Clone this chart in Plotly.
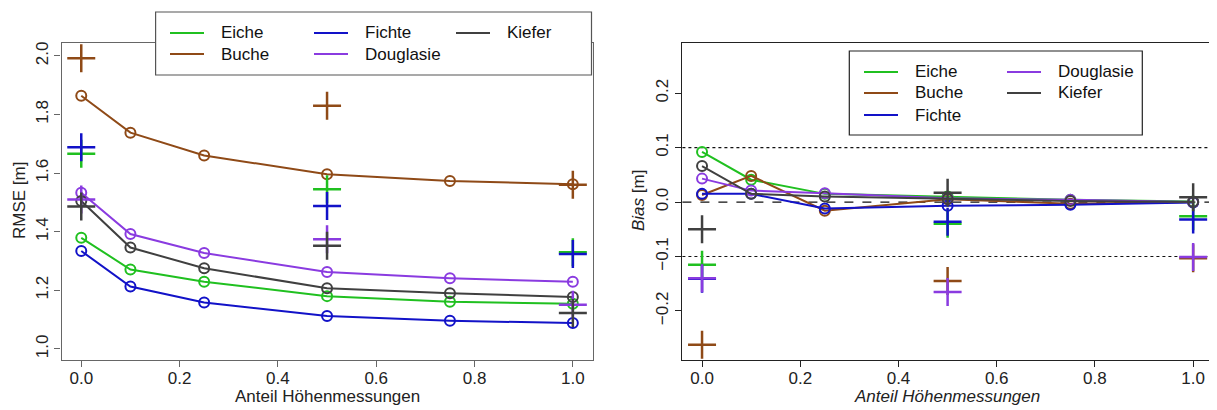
import plotly.graph_objects as go

# ---------------- data ----------------
anteil = [0.0, 0.1, 0.25, 0.5, 0.75, 1.0]
anteil_plus = [0.0, 0.5, 1.0]
species = ["Eiche", "Buche", "Fichte", "Douglasie", "Kiefer"]

rmse_eiche = [1.379, 1.271, 1.229, 1.180, 1.161, 1.154]
rmse_buche = [1.864, 1.738, 1.660, 1.596, 1.573, 1.562]
rmse_fichte = [1.334, 1.213, 1.158, 1.112, 1.096, 1.088]
rmse_douglasie = [1.533, 1.392, 1.327, 1.262, 1.241, 1.229]
rmse_kiefer = [1.505, 1.346, 1.275, 1.207, 1.190, 1.177]

rmse_plus_eiche = [1.666, 1.545, 1.330]
rmse_plus_buche = [1.992, 1.830, 1.560]
rmse_plus_fichte = [1.688, 1.488, 1.324]
rmse_plus_douglasie = [1.510, 1.374, 1.151]
rmse_plus_kiefer = [1.486, 1.352, 1.122]

bias_eiche = [0.092, 0.041, 0.015, 0.010, 0.004, 0.001]
bias_buche = [0.013, 0.048, -0.016, 0.005, -0.003, 0.000]
bias_fichte = [0.015, 0.015, -0.012, -0.007, -0.005, -0.001]
bias_douglasie = [0.043, 0.021, 0.016, 0.007, 0.004, 0.000]
bias_kiefer = [0.066, 0.015, 0.010, 0.006, 0.002, 0.000]

bias_plus_eiche = [-0.115, -0.040, -0.026]
bias_plus_buche = [-0.262, -0.145, -0.103]
bias_plus_fichte = [-0.141, -0.036, -0.032]
bias_plus_douglasie = [-0.140, -0.165, -0.101]
bias_plus_kiefer = [-0.050, 0.017, 0.009]

rmse_ticks = [1.0, 1.2, 1.4, 1.6, 1.8, 2.0]
bias_ticks = [-0.2, -0.1, 0.0, 0.1, 0.2]
x_ticks = [0.0, 0.2, 0.4, 0.6, 0.8, 1.0]

x_title = "Anteil Höhenmessungen"
y_title_left = "RMSE [m]"
y_title_right = "<i>Bias</i> [m]"

rmse_lines = [rmse_eiche, rmse_buche, rmse_fichte, rmse_douglasie, rmse_kiefer]
rmse_plus = [rmse_plus_eiche, rmse_plus_buche, rmse_plus_fichte, rmse_plus_douglasie, rmse_plus_kiefer]
bias_lines = [bias_eiche, bias_buche, bias_fichte, bias_douglasie, bias_kiefer]
bias_plus = [bias_plus_eiche, bias_plus_buche, bias_plus_fichte, bias_plus_douglasie, bias_plus_kiefer]

# ---------------- style ----------------
colors = ["#20c020", "#8f4a17", "#1212c8", "#8a3be0", "#404040"]
FONT = "Liberation Sans, Arial, sans-serif"
FS = 17
OFF = 8                      # page body margin of the html page
W, H = 1217 - OFF, 410 - OFF


def px(x):
    return (x - OFF) / W


def py(y):
    return 1 - (y - OFF) / H


fig = go.Figure()

for i, sp in enumerate(species):
    c = colors[i]
    fig.add_trace(go.Scatter(x=anteil, y=rmse_lines[i], mode="lines+markers", name=sp,
                             line=dict(color=c, width=2),
                             marker=dict(symbol="circle-open", size=10, line=dict(width=2, color=c)),
                             xaxis="x", yaxis="y", showlegend=False))
    fig.add_trace(go.Scatter(x=anteil, y=bias_lines[i], mode="lines+markers", name=sp,
                             line=dict(color=c, width=2),
                             marker=dict(symbol="circle-open", size=10, line=dict(width=2, color=c)),
                             xaxis="x2", yaxis="y2", showlegend=False))
for i, sp in enumerate(species):
    c = colors[i]
    fig.add_trace(go.Scatter(x=anteil_plus, y=rmse_plus[i], mode="markers", name=sp,
                             marker=dict(symbol="cross-thin", size=20, line=dict(width=2.5, color=c)),
                             xaxis="x", yaxis="y", showlegend=False))
    fig.add_trace(go.Scatter(x=anteil_plus, y=bias_plus[i], mode="markers", name=sp,
                             marker=dict(symbol="cross-thin", size=20, line=dict(width=2.5, color=c)),
                             xaxis="x2", yaxis="y2", showlegend=False))

axis_common = dict(showgrid=False, zeroline=False, ticks="outside", ticklen=6, tickwidth=1,
                   showline=True, mirror=True, linewidth=1.3,
                   tickfont=dict(family=FONT, size=FS, color="#222"), tickformat=".1f")

ydom = [py(360), py(43)]
fig.update_layout(
    width=W, height=H,
    margin=dict(l=0, r=0, t=0, b=0),
    paper_bgcolor="white", plot_bgcolor="white",
    font=dict(family=FONT, size=FS, color="#222"),
    xaxis=dict(domain=[px(61.6), px(592.5)], range=[-0.04, 1.04], tickvals=x_ticks,
               linecolor="#666", tickcolor="#666", anchor="y", ticklabelstandoff=-4,
               **axis_common),
    yaxis=dict(domain=ydom, range=[0.962, 2.044], tickvals=rmse_ticks, tickangle=-90,
               linecolor="#666", tickcolor="#666", anchor="x", **axis_common),
    xaxis2=dict(domain=[px(682.4), px(1212.8)], range=[-0.04, 1.04], tickvals=x_ticks,
                linecolor="#222", tickcolor="#222", anchor="y2", ticklabelstandoff=-4,
                **axis_common),
    yaxis2=dict(domain=ydom, range=[-0.29, 0.292], tickvals=bias_ticks, tickangle=-90,
                linecolor="#222", tickcolor="#222", anchor="x2", **axis_common),
)

# axis titles
title_font = dict(family=FONT, size=FS, color="#222")
fig.add_annotation(xref="paper", yref="paper", x=px(327), y=py(396), text=x_title,
                   showarrow=False, xanchor="center", yanchor="middle", font=title_font)
fig.add_annotation(xref="paper", yref="paper", x=px(947), y=py(396), text="<i>" + x_title + "</i>",
                   showarrow=False, xanchor="center", yanchor="middle", font=title_font)
fig.add_annotation(xref="paper", yref="paper", x=px(19), y=py(201), text=y_title_left,
                   showarrow=False, textangle=-90, xanchor="center", yanchor="middle", font=title_font)
fig.add_annotation(xref="paper", yref="paper", x=px(638), y=py(201), text=y_title_right,
                   showarrow=False, textangle=-90, xanchor="center", yanchor="middle", font=title_font)

# reference lines in bias panel
fig.add_shape(type="line", xref="x2 domain", yref="y2", x0=0, x1=1, y0=0, y1=0,
              line=dict(color="#111", width=1.2, dash="dash"), layer="below")
for v in (0.1, -0.1):
    fig.add_shape(type="line", xref="x2 domain", yref="y2", x0=0, x1=1, y0=v, y1=v,
                  line=dict(color="#111", width=1.2, dash="dot"), layer="below")


def legend_box(x0, y0, x1, y1, entries, border):
    fig.add_shape(type="rect", xref="paper", yref="paper",
                  x0=px(x0), x1=px(x1), y0=py(y1), y1=py(y0),
                  fillcolor="white", line=dict(color=border, width=1.2), layer="above")
    for name, color, lx, ly in entries:
        fig.add_shape(type="line", xref="paper", yref="paper",
                      x0=px(lx), x1=px(lx + 34), y0=py(ly), y1=py(ly),
                      line=dict(color=color, width=2), layer="above")
        fig.add_annotation(xref="paper", yref="paper", x=px(lx + 49), y=py(ly),
                           text=name, showarrow=False, xanchor="left", yanchor="middle",
                           font=dict(family=FONT, size=FS, color="#111"))


# left legend: 3 columns, column-major
left_cols = [170, 314, 456]
left_rows = [33, 54]
left_entries = []
for i, sp in enumerate(species):
    col, row = divmod(i, 2)
    left_entries.append((sp, colors[i], left_cols[col], left_rows[row]))
legend_box(155.6, 12, 591.5, 75, left_entries, "#555")

# right legend: 2 columns, column-major
right_cols = [864, 1007]
right_rows = [72, 93, 115]
right_entries = []
for i, sp in enumerate(species):
    col, row = divmod(i, 3)
    right_entries.append((sp, colors[i], right_cols[col], right_rows[row]))
legend_box(849.3, 51, 1142.3, 135, right_entries, "#222")

fig.write_html("out.html")
